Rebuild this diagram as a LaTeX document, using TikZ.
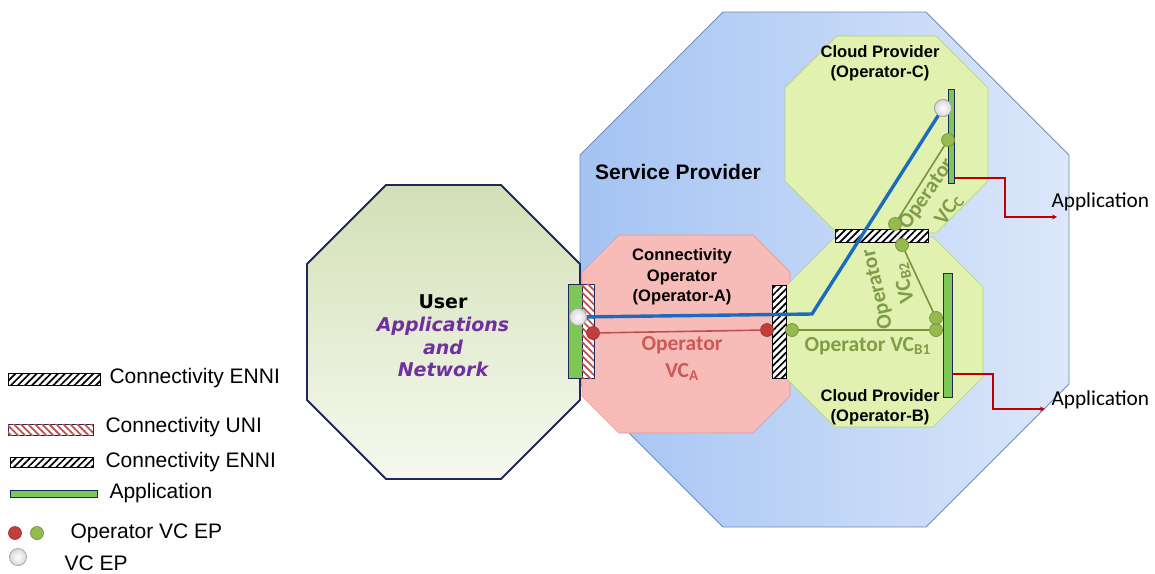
\documentclass[tikz,border=0pt]{standalone}
\usepackage{fontspec}
\setmainfont{Liberation Sans}
\newfontfamily\calibfont{Carlito}
\newfontfamily\verdfont{DejaVu Sans}
\usetikzlibrary{arrows, patterns.meta}

\definecolor{spBlueL}{RGB}{164,195,243}
\definecolor{spBlueR}{RGB}{220,231,250}
\definecolor{spEdge}{RGB}{112,140,182}
\definecolor{userTop}{RGB}{211,224,182}
\definecolor{userBot}{RGB}{246,249,239}
\definecolor{navyEdge}{RGB}{31,40,92}
\definecolor{opPink}{RGB}{247,187,184}
\definecolor{opPinkEdge}{RGB}{228,150,150}
\definecolor{cloudGreen}{RGB}{225,242,176}
\definecolor{cloudEdge}{RGB}{178,208,125}
\definecolor{vcBlue}{RGB}{28,108,190}
\definecolor{vcRed}{RGB}{192,80,77}
\definecolor{dotRed}{RGB}{192,62,60}
\definecolor{vcGreen}{RGB}{119,147,60}
\definecolor{dotGreen}{RGB}{150,185,80}
\definecolor{appGreen}{RGB}{125,200,85}
\definecolor{arrowRed}{RGB}{192,0,0}
\definecolor{txtPurple}{RGB}{112,48,160}
\definecolor{txtGreen}{RGB}{128,156,72}
\definecolor{txtPink}{RGB}{205,88,88}

\tikzstyle{ennibar} = [draw=black, line width=0.9pt, fill=white, inner sep=0pt, postaction={pattern={Lines[angle=45,distance=5pt,line width=1.7pt]}, pattern color=black}]
\tikzstyle{unibar} = [draw=navyEdge, line width=1pt, fill=white, inner sep=0pt, postaction={pattern={Lines[angle=-45,distance=5pt,line width=1.8pt]}, pattern color=vcRed}]
\tikzstyle{appbar} = [draw=navyEdge, line width=1pt, fill=appGreen, inner sep=0pt]
\tikzstyle{redDot} = [circle, fill=dotRed, draw=dotRed!80!black, line width=0.6pt, minimum size=13pt, inner sep=0pt]
\tikzstyle{greenDot} = [circle, fill=dotGreen, draw=vcGreen, line width=0.7pt, minimum size=13pt, inner sep=0pt]
\tikzstyle{vcEP} = [circle, minimum size=17pt, inner sep=0pt, draw=gray!70, line width=0.8pt, inner color=white, outer color=gray!30]
\tikzstyle{opText} = [align=center, font=\fontsize{16.6}{20.5}\selectfont\bfseries]
\tikzstyle{vcText} = [align=center, font=\calibfont\fontsize{21.5}{27}\selectfont\bfseries]
\tikzstyle{legText} = [anchor=west, font=\fontsize{21}{24}\selectfont]
\tikzstyle{apparrow} = [arrowRed, line width=1.2pt, ->, >=stealth]

% octagon: [options] x1 y1 x2 y2 cut
\newcommand{\octo}[6][]{\path[#1] (#2+#6,#3) -- (#4-#6,#3) -- (#4,#3+#6) -- (#4,#5-#6) -- (#4-#6,#5) -- (#2+#6,#5) -- (#2,#5-#6) -- (#2,#3+#6) -- cycle;}

\begin{document}
\begin{tikzpicture}[x=1pt, y=-1pt]
    \useasboundingbox (0,0) rectangle (1155,573);

    % domains
    \octo[draw=spEdge, line width=0.8pt, left color=spBlueL, right color=spBlueR]{580}{12}{1069}{527}{143}
    \octo[draw=navyEdge, line width=1.8pt, top color=userTop, bottom color=userBot]{307}{185}{580}{479}{79}
    \octo[draw=opPinkEdge, line width=0.6pt, fill=opPink]{582}{235}{790}{433}{37}
    \octo[draw=cloudEdge, line width=0.6pt, fill=cloudGreen]{785}{237}{983}{427}{50}
    \octo[draw=cloudEdge, line width=0.6pt, fill=cloudGreen]{785}{36}{988}{233}{52}

    \node[font=\fontsize{21}{24}\selectfont\bfseries] (sp) at (678,172) {Service Provider};
    \node[align=center, font=\verdfont\fontsize{19}{22.7}\selectfont\bfseries] (user) at (443,336)
        {User\\\textcolor{txtPurple}{\itshape Applications}\\\textcolor{txtPurple}{\itshape and}\\\textcolor{txtPurple}{\itshape Network}};
    \node[opText] (opA) at (682,277) {Connectivity\\Operator\\(Operator-A)};
    \node[opText] (opC) at (880,63) {Cloud Provider\\(Operator-C)};
    \node[opText] (opB) at (880,407) {Cloud Provider\\(Operator-B)};
    \node[vcText, text=txtPink] (vcA) at (682,358) {Operator\\VC\textsubscript{A}};
    \node[vcText, text=txtGreen, anchor=west] (vcB1) at (801,346) {Operator VC\textsubscript{B1}};
    \node[vcText, text=txtGreen, rotate=103] (vcB2) at (891,286) {Operator\\VC\textsubscript{B2}};
    \node[vcText, text=txtGreen, rotate=55] (vcC) at (938,202) {Operator\\VC\textsubscript{C}};

    % interfaces
    \node[appbar, minimum width=14, minimum height=94] (appU) at (575,331) {};
    \node[unibar, minimum width=12, minimum height=94] (uni) at (588,331) {};
    \node[ennibar, minimum width=14, minimum height=93] (enniAB) at (779,331.5) {};
    \node[ennibar, minimum width=93, minimum height=13] (enniBC) at (881.5,235.5) {};
    \node[appbar, minimum width=6, minimum height=94] (appC) at (951,136) {};
    \node[appbar, minimum width=9, minimum height=124] (appB) at (947.5,335) {};

    % operator virtual connections
    \node[redDot] (a1) at (593,333) {};
    \node[redDot] (a2) at (767,330) {};
    \node[greenDot] (b1) at (792,330) {};
    \node[greenDot] (b2) at (936,330) {};
    \node[greenDot] (b3) at (936,318) {};
    \node[greenDot] (b4) at (902,245) {};
    \node[greenDot] (c1) at (895,224) {};
    \node[greenDot] (c2) at (948,140) {};
    \draw[vcRed, line width=1.6pt] (a1) -- (a2);
    \draw[vcGreen, line width=1.6pt] (b1) -- (b2);
    \draw[vcGreen, line width=1.6pt] (b3) -- (b4);
    \draw[vcGreen, line width=1.6pt] (c1) -- (c2);

    % end to end virtual connection
    \coordinate (bend) at (812,314);
    \node[vcEP] (epU) at (578,317) {};
    \node[vcEP] (epC) at (943,108) {};
    \draw[vcBlue, line width=3.4pt] (epU) -- (bend) -- (epC);
    \node[vcEP] at (epU) {};
    \node[vcEP] at (epC) {};

    % applications
    \coordinate (tipC) at (1057,217);
    \coordinate (tipB) at (1045,409);
    \draw[apparrow] (appC.east |- 0,178) -- (1005,178) |- (tipC);
    \draw[apparrow] (appB.east |- 0,374) -- (993,374) |- (tipB);
    \node[anchor=west, font=\calibfont\fontsize{21.3}{24}\selectfont] (appTxtC) at (1048,202) {Application};
    \node[anchor=west, font=\calibfont\fontsize{21.3}{24}\selectfont] (appTxtB) at (1048,400) {Application};

    % legend
    \node[ennibar, minimum width=92, minimum height=12] (lgEnni) at (54,379) {};
    \node[unibar, minimum width=85, minimum height=11] (lgUni) at (50.5,429.5) {};
    \node[ennibar, minimum width=83, minimum height=10] (lgEnni2) at (51.5,462) {};
    \node[appbar, minimum width=87, minimum height=7] (lgApp) at (53.5,493.5) {};
    \node[redDot] (lgRed) at (15,533) {};
    \node[greenDot] (lgGreen) at (37,533) {};
    \node[vcEP] (lgEP) at (18,557) {};
    \node[legText] at (106,378) {Connectivity ENNI};
    \node[legText] at (102,427) {Connectivity UNI};
    \node[legText] at (102,462) {Connectivity ENNI};
    \node[legText] at (106,493) {Application};
    \node[legText] at (67,533) {Operator VC EP};
    \node[legText] at (61,563) {VC EP};
\end{tikzpicture}
\end{document}
